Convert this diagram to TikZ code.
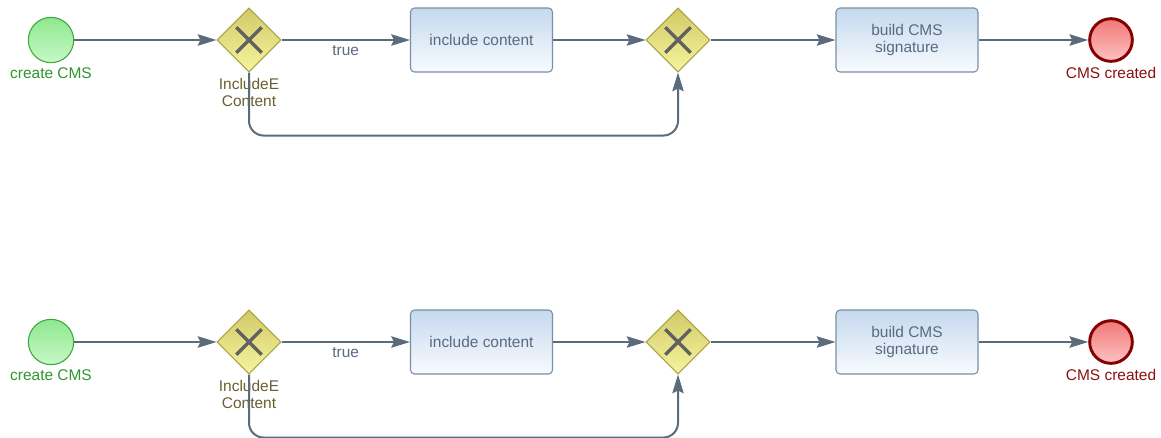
\documentclass[tikz,border=0pt]{standalone}
\usepackage{fontspec}
\setmainfont{Liberation Sans}
\usetikzlibrary{arrows.meta,shapes.geometric}

\definecolor{flowline}{HTML}{5A6B7C}
\definecolor{startline}{HTML}{3DA83D}
\definecolor{starttop}{HTML}{8EE88E}
\definecolor{startbot}{HTML}{C8F8C8}
\definecolor{starttext}{HTML}{2E962E}
\definecolor{endline}{HTML}{850000}
\definecolor{endtop}{HTML}{F07878}
\definecolor{endbot}{HTML}{FFC2C2}
\definecolor{endtext}{HTML}{8B1010}
\definecolor{gateline}{HTML}{A8A244}
\definecolor{gatetop}{HTML}{D2CA68}
\definecolor{gatebot}{HTML}{F6F49E}
\definecolor{gatetext}{HTML}{6B5E30}
\definecolor{xmark}{HTML}{616161}
\definecolor{taskline}{HTML}{7A8FA6}
\definecolor{tasktop}{HTML}{C5D9EE}
\definecolor{taskbot}{HTML}{F8FBFE}
\definecolor{tasktext}{HTML}{5A6A82}

\begin{document}
\begin{tikzpicture}[x=0.75pt,y=-0.75pt,
	every node/.style={font=\fontsize{11.6}{13.4}\selectfont},
	flow/.style={draw=flowline, line width=1.5pt, -{Stealth[length=14pt,width=8.5pt,inset=2pt]}},
	startev/.style={circle, draw=startline, line width=0.8pt, top color=starttop, bottom color=startbot, minimum size=34pt, inner sep=0pt},
	endev/.style={circle, draw=endline, line width=2.2pt, top color=endtop, bottom color=endbot, minimum size=32pt, inner sep=0pt},
	gateway/.style={diamond, draw=gateline, line width=0.8pt, top color=gatetop, bottom color=gatebot, minimum width=48pt, minimum height=48pt, inner sep=0pt,
		path picture={\draw[line width=2.6pt, xmark] (path picture bounding box.center) ++(-9.5pt,-9.5pt) -- ++(19pt,19pt) ++(-19pt,0pt) -- ++(19pt,-19pt);}},
	taskbox/.style={rectangle, rounded corners=3pt, draw=taskline, line width=0.8pt, top color=tasktop, bottom color=taskbot, minimum width=106.5pt, minimum height=48pt, align=center, text=tasktext}
]
	\useasboundingbox (0,0) rectangle (1161,437);
	\foreach \r/\oy in {1/0,2/302}{
		\node[startev, label={[text=starttext, label distance=-0.5pt]below:create CMS}] (start\r) at (51,40+\oy) {};
		\node[gateway, label={[text=gatetext, align=center, label distance=0.5pt]below:IncludeE\\Content}] (g1\r) at (249,40+\oy) {};
		\node[taskbox] (t1\r) at (481.5,40+\oy) {include content};
		\node[gateway] (g2\r) at (678,40+\oy) {};
		\node[taskbox] (t2\r) at (907,40+\oy) {build CMS\\signature};
		\node[endev, label={[text=endtext, label distance=-0.5pt]below:CMS created}] (end\r) at (1111,40+\oy) {};
		\draw[flow] (start\r) -- (g1\r);
		\draw[flow] (g1\r) -- node[below, text=tasktext] {true} (t1\r);
		\draw[flow] (t1\r) -- (g2\r);
		\draw[flow] (g2\r) -- (t2\r);
		\draw[flow] (t2\r) -- (end\r);
		\draw[flow, rounded corners=11pt] (g1\r.south) -- ++(0,63) -| (g2\r.south);
	}
\end{tikzpicture}
\end{document}
